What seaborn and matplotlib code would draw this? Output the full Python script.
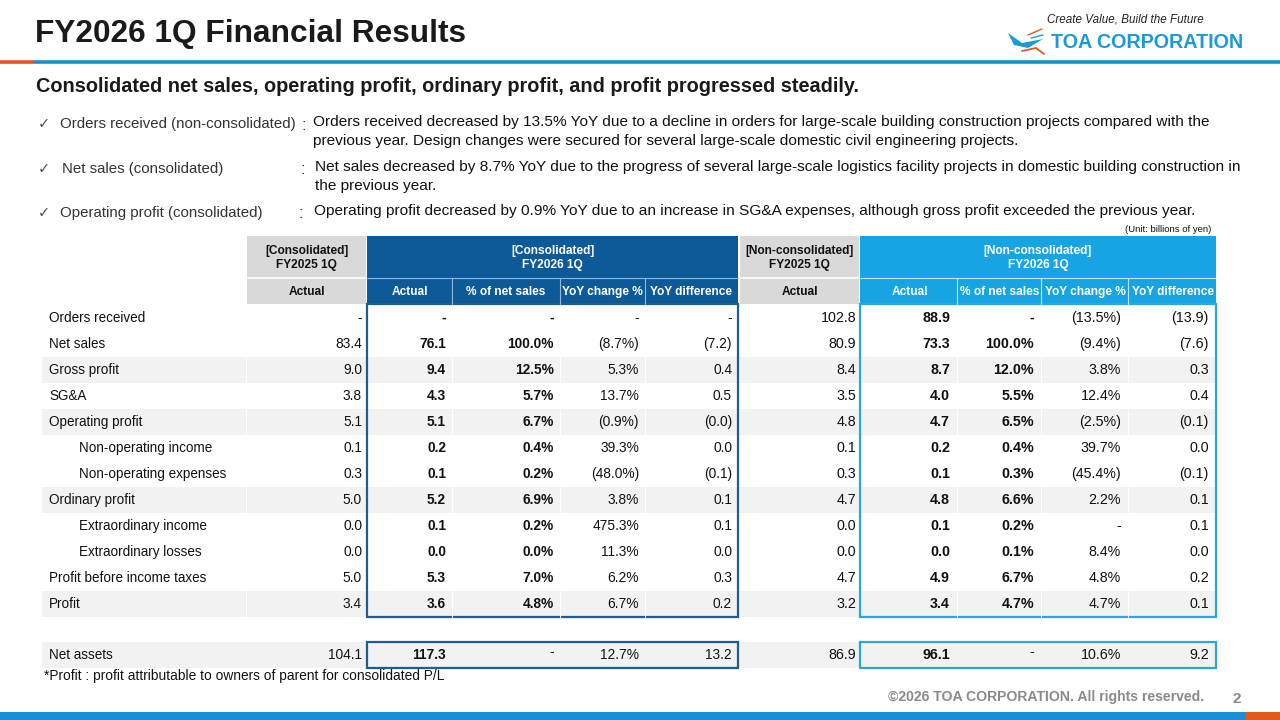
import math
import matplotlib
matplotlib.use("Agg")
import matplotlib.pyplot as plt
from matplotlib import font_manager
from matplotlib.patches import Rectangle, Polygon
import seaborn as sns

# ---------------- data ----------------
row_labels = ["Orders received", "Net sales", "Gross profit", "SG&A", "Operating profit",
              "Non-operating income", "Non-operating expenses", "Ordinary profit",
              "Extraordinary income", "Extraordinary losses", "Profit before income taxes", "Profit"]
row_indent = [0, 0, 0, 0, 0, 1, 1, 0, 1, 1, 0, 0]
row_shaded = [0, 0, 1, 0, 1, 0, 0, 1, 0, 0, 0, 1]

cons_fy25 = [None, 83.4, 9.0, 3.8, 5.1, 0.1, 0.3, 5.0, 0.0, 0.0, 5.0, 3.4]
cons_fy26 = [None, 76.1, 9.4, 4.3, 5.1, 0.2, 0.1, 5.2, 0.1, 0.0, 5.3, 3.6]
cons_pct_sales = [None, 100.0, 12.5, 5.7, 6.7, 0.4, 0.2, 6.9, 0.2, 0.0, 7.0, 4.8]
cons_yoy_pct = [None, -8.7, 5.3, 13.7, -0.9, 39.3, -48.0, 3.8, 475.3, 11.3, 6.2, 6.7]
cons_yoy_diff = [None, -7.2, 0.4, 0.5, -0.0, 0.0, -0.1, 0.1, 0.1, 0.0, 0.3, 0.2]

non_fy25 = [102.8, 80.9, 8.4, 3.5, 4.8, 0.1, 0.3, 4.7, 0.0, 0.0, 4.7, 3.2]
non_fy26 = [88.9, 73.3, 8.7, 4.0, 4.7, 0.2, 0.1, 4.8, 0.1, 0.0, 4.9, 3.4]
non_pct_sales = [None, 100.0, 12.0, 5.5, 6.5, 0.4, 0.3, 6.6, 0.2, 0.1, 6.7, 4.7]
non_yoy_pct = [-13.5, -9.4, 3.8, 12.4, -2.5, 39.7, -45.4, 2.2, None, 8.4, 4.8, 4.7]
non_yoy_diff = [-13.9, -7.6, 0.3, 0.4, -0.1, 0.0, -0.1, 0.1, 0.1, 0.0, 0.2, 0.1]

net_assets_label = "Net assets"
net_assets_cons = [104.1, 117.3, None, 12.7, 13.2]
net_assets_non = [86.9, 96.1, None, 10.6, 9.2]

sub_headers = ["Actual", "% of net sales", "YoY change %", "YoY difference"]
group_headers = ["[Consolidated]\nFY2025 1Q", "[Consolidated]\nFY2026 1Q",
                 "[Non-consolidated]\nFY2025 1Q", "[Non-consolidated]\nFY2026 1Q"]

title = "FY2026 1Q Financial Results"
subtitle = "Consolidated net sales, operating profit, ordinary profit, and profit progressed steadily."
bullet_heads = ["Orders received (non-consolidated)", "Net sales (consolidated)", "Operating profit (consolidated)"]
bullet_texts = [
    ["Orders received decreased by 13.5% YoY due to a decline in orders for large-scale building construction projects compared with the",
     "previous year. Design changes were secured for several large-scale domestic civil engineering projects."],
    ["Net sales decreased by 8.7% YoY due to the progress of several large-scale logistics facility projects in domestic building construction in",
     "the previous year."],
    ["Operating profit decreased by 0.9% YoY due to an increase in SG&A expenses, although gross profit exceeded the previous year."],
]
unit_note = "(Unit: billions of yen)"
footnote = "*Profit : profit attributable to owners of parent for consolidated P/L"
copyright_txt = "\u00a92026 TOA CORPORATION. All rights reserved."
page_no = "2"
tagline = "Create Value, Build the Future"
company = "TOA CORPORATION"

# ---------------- style ----------------
sns.set_theme(style="white")
REG = ["Liberation Sans", "DejaVu Sans"]
plt.rcParams["font.family"] = REG


def has_font(name):
    try:
        font_manager.findfont(font_manager.FontProperties(family=name), fallback_to_default=False)
        return True
    except Exception:
        return False


if has_font("Liberation Sans Narrow"):
    NAR = ["Liberation Sans Narrow", "Liberation Sans", "DejaVu Sans"]
    NS = 1.0
else:
    NAR = REG
    NS = 0.9  # shrink regular font to mimic condensed width

DARK_BLUE = "#0d5a99"
LIGHT_BLUE = "#16a5e2"
GRAY_HEAD = "#d9d9d9"
GRAY_ROW = "#f2f2f2"
ORANGE = "#e05a1e"
LINE_BLUE = "#1a8fd0"

fig = plt.figure(figsize=(12.8, 7.2), dpi=100)
ax = fig.add_axes([0, 0, 1, 1])
ax.set_xlim(0, 1280)
ax.set_ylim(720, 0)
ax.axis("off")


def fmt(v, pct=False):
    if v is None:
        return "-"
    neg = math.copysign(1, v) < 0
    s = f"{abs(v):.1f}" + ("%" if pct else "")
    return f"({s})" if neg else s


# ---------------- header area ----------------
ax.text(35, 34, title, fontsize=22.8, fontweight="bold", va="center", ha="left", color="#1a1a1a")
ax.plot([0, 33], [62, 62], color=ORANGE, lw=2.6, solid_capstyle="butt")
ax.plot([33, 1280], [62, 62], color=LINE_BLUE, lw=2.6, solid_capstyle="butt")
ax.text(1204, 19, tagline, fontsize=8.4, style="italic", ha="right", va="center", color="#222222")
ax.text(1243, 42, company, fontsize=14.2, fontweight="bold", ha="right", va="center", color="#1a9ad9")
# simple logo mark
ax.add_patch(Polygon([[1008, 33], [1022, 43], [1043, 39], [1028, 48], [1014, 45]], closed=True,
                     color="#1a9ad9", lw=0))
ax.plot([1022, 1036, 1044], [51, 48, 54], color=ORANGE, lw=1.3)
ax.plot([1028, 1042], [35, 29], color=ORANGE, lw=1.0)
ax.plot([1031, 1043], [38, 35], color="#1a9ad9", lw=1.0)

ax.text(36, 87, subtitle, fontsize=14.3, fontweight="bold", ha="left", va="center", color="#1a1a1a")

bullet_y = [123, 168, 212]
colon_x = [304, 303, 301]
text_x = [313, 315, 314]
for hy, head, body, cx, tx in zip(bullet_y, bullet_heads, bullet_texts, colon_x, text_x):
    ax.text(38, hy + 1, "\u2713", fontsize=10.5, ha="left", va="center", color="#555555",
            family=["DejaVu Sans"])
    ax.text(60 if hy != 168 else 62, hy + 1, head, fontsize=10.8, ha="left", va="center", color="#333333")
    ax.text(cx, hy + 2, ":", fontsize=12, ha="center", va="center", color="#333333")
    for k, line in enumerate(body):
        ax.text(tx, hy - 1 + 19 * k, line, fontsize=11.1, ha="left", va="center", color="#111111")
ax.text(1211, 229, unit_note, fontsize=6.8, ha="right", va="center", color="#111111")

# ---------------- table ----------------
LBL = (42, 245)
C25 = (247, 366)
C26 = [367, 452, 560, 645, 738]
N25 = (740, 859)
N26 = [860, 957, 1041, 1128, 1216]
H1 = (236, 278)
H2 = (278, 304)
ROW_TOP = 305
ROW_H = 26
NA_TOP = 642
HFS = 8.6

# header blocks
ax.add_patch(Rectangle((C25[0], H1[0]), C25[1] - C25[0], H2[1] - H1[0], color=GRAY_HEAD, lw=0))
ax.add_patch(Rectangle((N25[0], H1[0]), N25[1] - N25[0], H2[1] - H1[0], color=GRAY_HEAD, lw=0))
ax.add_patch(Rectangle((C26[0], H1[0]), C26[-1] - C26[0], H2[1] - H1[0], color=DARK_BLUE, lw=0))
ax.add_patch(Rectangle((N26[0], H1[0]), N26[-1] - N26[0], H2[1] - H1[0], color=LIGHT_BLUE, lw=0))
ax.plot([C25[0], C25[1]], [H1[1], H1[1]], color="white", lw=1.2)
ax.plot([N25[0], N25[1]], [H1[1], H1[1]], color="white", lw=1.2)
ax.plot([C26[0], C26[-1]], [H1[1], H1[1]], color="#8fb8dc", lw=0.8)
ax.plot([N26[0], N26[-1]], [H1[1], H1[1]], color="#bfe6f7", lw=0.8)
for x in C26[1:-1]:
    ax.plot([x, x], [H2[0], H2[1]], color="#8fb8dc", lw=0.8)
for x in N26[1:-1]:
    ax.plot([x, x], [H2[0], H2[1]], color="#bfe6f7", lw=0.8)

hcy = (H1[0] + H1[1]) / 2 + 1
for (x0, x1), g, col in zip([C25, (C26[0], C26[-1]), N25, (N26[0], N26[-1])], group_headers,
                            ["#111111", "white", "#111111", "white"]):
    ax.text((x0 + x1) / 2, hcy, g, fontsize=HFS, fontweight="bold", ha="center", va="center",
            color=col, linespacing=1.2)

h2y = (H2[0] + H2[1]) / 2 + 1
ax.text(sum(C25) / 2, h2y, sub_headers[0], fontsize=HFS, fontweight="bold", ha="center", va="center",
        color="#111111")
ax.text(sum(N25) / 2, h2y, sub_headers[0], fontsize=HFS, fontweight="bold", ha="center", va="center",
        color="#111111")
for i, h in enumerate(sub_headers):
    ax.text((C26[i] + C26[i + 1]) / 2, h2y, h, fontsize=HFS, fontweight="bold", ha="center", va="center",
            color="white")
    ax.text((N26[i] + N26[i + 1]) / 2 + 1, h2y, h, fontsize=HFS, fontweight="bold", ha="center",
            va="center", color="white")

# data rows
PAD = 6
LFS = 10.8 * NS   # labels (condensed)
CFS = 11.0 * NS   # consolidated numbers (condensed)
NFS = 10.3        # non-consolidated numbers
for r, lab in enumerate(row_labels):
    top = ROW_TOP + r * ROW_H
    cy = top + ROW_H / 2
    if row_shaded[r]:
        ax.add_patch(Rectangle((LBL[0], top), N26[-1] - LBL[0], ROW_H, color=GRAY_ROW, lw=0))
        for x in [LBL[1] + 1, C26[1], C26[2], C26[3], N26[1], N26[2], N26[3]]:
            ax.plot([x, x], [top, top + ROW_H], color="white", lw=0.8)
    ax.text(LBL[0] + 7 + 30 * row_indent[r], cy, lab, fontsize=LFS, ha="left", va="center",
            color="#111111", family=NAR)
    ax.text(C25[1] - 4, cy, fmt(cons_fy25[r]), fontsize=CFS, ha="right", va="center", family=NAR,
            color="#111111")
    vals = [fmt(cons_fy26[r]), fmt(cons_pct_sales[r], True), fmt(cons_yoy_pct[r], True),
            fmt(cons_yoy_diff[r])]
    for i, v in enumerate(vals):
        ax.text(C26[i + 1] - PAD, cy, v, fontsize=CFS, ha="right", va="center", family=NAR,
                fontweight="bold" if i < 2 else "normal", color="#111111")
    ax.text(N25[1] - 3, cy, fmt(non_fy25[r]), fontsize=NFS, ha="right", va="center", color="#111111")
    vals = [fmt(non_fy26[r]), fmt(non_pct_sales[r], True), fmt(non_yoy_pct[r], True),
            fmt(non_yoy_diff[r])]
    for i, v in enumerate(vals):
        ax.text(N26[i + 1] - PAD - 1, cy, v, fontsize=NFS, ha="right", va="center",
                fontweight="bold" if i < 2 else "normal", color="#111111")

tbl_bottom = ROW_TOP + len(row_labels) * ROW_H
ax.add_patch(Rectangle((C26[0], H2[1]), C26[-1] - C26[0], tbl_bottom - H2[1], fill=False,
                       edgecolor="#1f5d8c", lw=1.6))
ax.add_patch(Rectangle((N26[0], H2[1]), N26[-1] - N26[0], tbl_bottom - H2[1], fill=False,
                       edgecolor="#2aa7db", lw=1.6))

# net assets row
cy = NA_TOP + ROW_H / 2
ax.add_patch(Rectangle((LBL[0], NA_TOP), N26[-1] - LBL[0], ROW_H, color=GRAY_ROW, lw=0))
ax.text(LBL[0] + 7, cy, net_assets_label, fontsize=LFS, ha="left", va="center", family=NAR, color="#111111")
ax.text(C25[1] - 4, cy, fmt(net_assets_cons[0]), fontsize=CFS, ha="right", va="center", family=NAR,
        color="#111111")
for i, v in enumerate(net_assets_cons[1:]):
    txt = fmt(v, pct=(i == 2))
    ax.text(C26[i + 1] - PAD, cy - (3 if v is None else 0), txt, fontsize=CFS, ha="right", va="center",
            family=NAR, fontweight="bold" if i == 0 else "normal", color="#111111")
ax.text(N25[1] - 3, cy, fmt(net_assets_non[0]), fontsize=NFS, ha="right", va="center", color="#111111")
for i, v in enumerate(net_assets_non[1:]):
    txt = fmt(v, pct=(i == 2))
    ax.text(N26[i + 1] - PAD - 1, cy - (3 if v is None else 0), txt, fontsize=NFS, ha="right",
            va="center", fontweight="bold" if i == 0 else "normal", color="#111111")
ax.add_patch(Rectangle((C26[0], NA_TOP), C26[-1] - C26[0], ROW_H, fill=False, edgecolor="#1f5d8c", lw=1.6))
ax.add_patch(Rectangle((N26[0], NA_TOP), N26[-1] - N26[0], ROW_H, fill=False, edgecolor="#2aa7db", lw=1.6))

ax.text(44, 676, footnote, fontsize=11.0 * NS, ha="left", va="center", family=NAR, color="#111111")

# ---------------- footer ----------------
ax.text(1204, 697, copyright_txt, fontsize=10.1, fontweight="bold", ha="right", va="center", color="#8a8a8a")
ax.text(1237, 699, page_no, fontsize=11, fontweight="bold", ha="center", va="center", color="#8a8a8a")
ax.add_patch(Rectangle((0, 712), 1245, 8, color="#1a8fd8", lw=0))
ax.add_patch(Rectangle((1245, 712), 35, 8, color=ORANGE, lw=0))

fig.savefig("out.png", dpi=100)
